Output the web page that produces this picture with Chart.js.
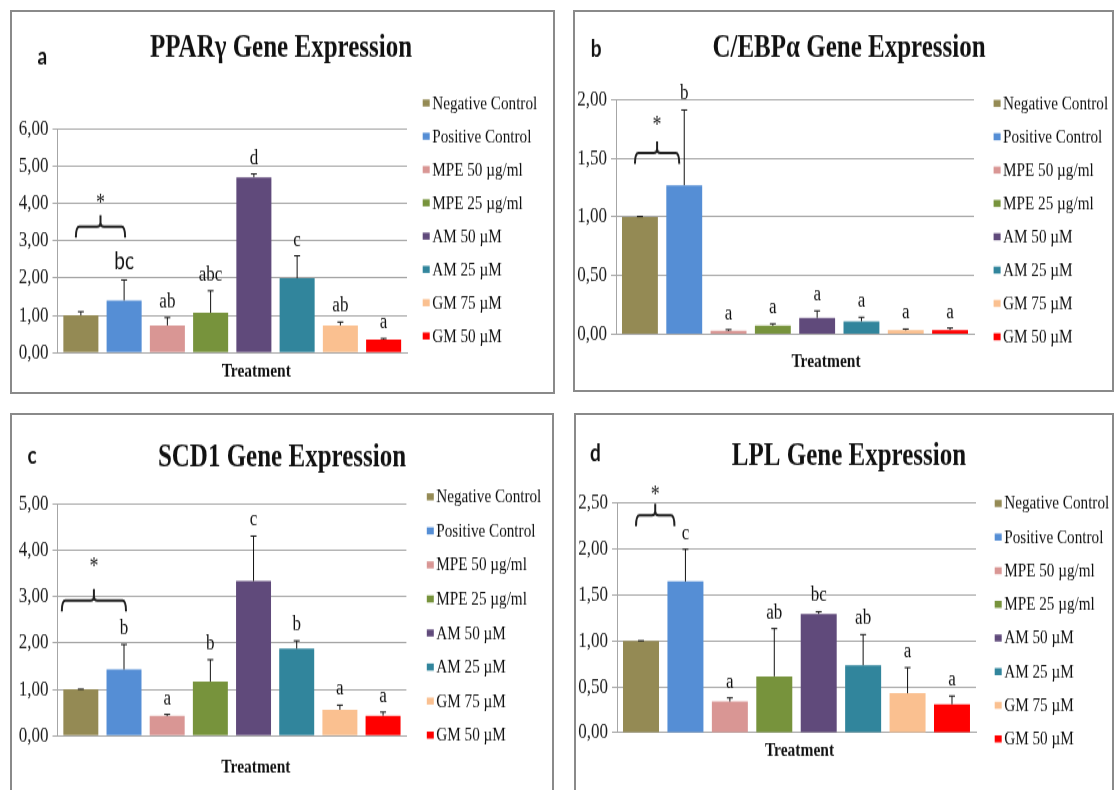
<!DOCTYPE html>
<html lang="en">
<head>
<meta charset="UTF-8">
<title>Gene Expression</title>
<script src="https://cdn.jsdelivr.net/npm/chart.js@4"></script>
<style>
  * { margin: 0; padding: 0; box-sizing: border-box; }
  html, body { width: 1115px; height: 790px; overflow: hidden; background: #fff; }
  .panel { position: absolute; border: 2px solid #8a8a8a; background: #fff; overflow: hidden; }
  .panel canvas { position: absolute; left: 0; top: 0; }
</style>
</head>
<body>
<div class="panel" id="pa"><canvas id="ca"></canvas></div>
<div class="panel" id="pb"><canvas id="cb"></canvas></div>
<div class="panel" id="pc"><canvas id="cc"></canvas></div>
<div class="panel" id="pd"><canvas id="cd"></canvas></div>

<script>
// shared
const treatments = ['Negative Control', 'Positive Control', 'MPE 50 µg/ml', 'MPE 25 µg/ml', 'AM 50 µM', 'AM 25 µM', 'GM 75 µM', 'GM 50 µM'];
const barColors = ['#948a54', '#558ed5', '#d99694', '#77933c', '#604a7b', '#31859c', '#fac090', '#ff0000'];
const xLabel = 'Treatment';

// a - PPARγ
const pparValues  = [1.00, 1.40, 0.73, 1.07, 4.71, 2.00, 0.73, 0.35];
const pparErrors  = [0.10, 0.55, 0.21, 0.59, 0.09, 0.60, 0.09, 0.03];
const pparLetters = ['', 'bc', 'ab', 'abc', 'd', 'c', 'ab', 'a'];

// b - C/EBPα
const cebpValues  = [1.00, 1.27, 0.030, 0.074, 0.14, 0.11, 0.035, 0.037];
const cebpErrors  = [0.003, 0.64, 0.010, 0.016, 0.06, 0.035, 0.010, 0.017];
const cebpLetters = ['', 'b', 'a', 'a', 'a', 'a', 'a', 'a'];

// c - SCD1
const scdValues  = [1.00, 1.43, 0.425, 1.17, 3.34, 1.88, 0.56, 0.43];
const scdErrors  = [0.005, 0.54, 0.035, 0.47, 0.97, 0.17, 0.10, 0.08];
const scdLetters = ['', 'b', 'a', 'b', 'c', 'b', 'a', 'a'];

// d - LPL
const lplValues  = [1.00, 1.65, 0.34, 0.615, 1.295, 0.735, 0.43, 0.31];
const lplErrors  = [0.003, 0.35, 0.04, 0.52, 0.025, 0.335, 0.28, 0.09];
const lplLetters = ['', 'c', 'a', 'ab', 'bc', 'ab', 'a', 'a'];

// y axis max / step per panel, bracket level and asterisk level (a, b, c, d)
const axisMax = [6, 2, 5, 2.5];
const axisStep = [1, 0.5, 1, 0.5];
const bracketLevels = [3.38, 1.545, 2.92, 2.37];
const starLevels = [4.15, 1.82, 3.75, 2.645];

const S = 1.28; // the picture is stretched vertically, so the canvas is too

const panels = [
  { tag: 'a', el: 'pa', cv: 'ca', box: [10, 10, 545, 384], title: 'PPARγ Gene Expression',
    values: pparValues, errors: pparErrors, letters: pparLetters,
    axis: { l: 57.5, r: 407, t: 129.3, b: 352.7 }, titleX: 281, titleY: 57, tagX: 37.5, tagY: 64,
    legX: 422.7, legY: 103, legGap: 33.3, xOff: 24, xPad: 6, br: [-5, 1], sans: [1] },
  { tag: 'b', el: 'pb', cv: 'cb', box: [573, 10, 541, 382], title: 'C/EBPα Gene Expression',
    values: cebpValues, errors: cebpErrors, letters: cebpLetters,
    axis: { l: 616, r: 974, t: 99.3, b: 334 }, titleX: 849, titleY: 57, tagX: 590.7, tagY: 56.7,
    legX: 993.6, legY: 103.3, legGap: 33.3, xOff: 31, xPad: 12.5, br: [-5, -5], sans: [] },
  { tag: 'c', el: 'pc', cv: 'cc', box: [10, 413, 544, 400], title: 'SCD1 Gene Expression',
    values: scdValues, errors: scdErrors, letters: scdLetters,
    axis: { l: 57.5, r: 406.4, t: 504, b: 735.3 }, titleX: 282, titleY: 466.7, tagX: 27.5, tagY: 463,
    legX: 426.8, legY: 496.7, legGap: 34, xOff: 24, xPad: 15, br: [-19, 2], sans: [] },
  { tag: 'd', el: 'pd', cv: 'cd', box: [574, 413, 540, 400], title: 'LPL Gene Expression',
    values: lplValues, errors: lplErrors, letters: lplLetters,
    axis: { l: 617, r: 976, t: 503.3, b: 732.3 }, titleX: 849, titleY: 465, tagX: 590, tagY: 461.7,
    legX: 994.7, legY: 503.3, legGap: 33.6, xOff: 3, xPad: 5, br: [-5, -11], sans: [] }
];

function decor(p, k, X, Y) {
  return {
    id: 'decor' + p.tag,
    afterDraw(chart) {
      const ctx = chart.ctx, ys = chart.scales.y;
      ctx.save();

      // title, a bit taller than the rest
      ctx.fillStyle = '#111';
      ctx.textAlign = 'center';
      ctx.textBaseline = 'alphabetic';
      ctx.font = 'bold 25px "Liberation Serif"';
      ctx.save();
      ctx.translate(X(p.titleX), Y(p.titleY));
      ctx.scale(1, 1.05);
      ctx.fillText(p.title, 0, 0);
      ctx.restore();

      // panel letter
      ctx.textAlign = 'left';
      ctx.font = 'bold 19px Lato';
      ctx.fillText(p.tag, X(p.tagX), Y(p.tagY));

      // legend
      ctx.font = '15.2px "Liberation Serif"';
      ctx.textBaseline = 'middle';
      chart.data.datasets.forEach((ds, i) => {
        const yc = Y(p.legY + i * p.legGap);
        ctx.fillStyle = ds.backgroundColor;
        ctx.fillRect(X(p.legX), yc - 2.75, 7, 5.5);
        ctx.fillStyle = '#111';
        ctx.fillText(ds.label, X(p.legX) + 9.5, yc + 0.5);
      });

      // error bars + letters
      ctx.strokeStyle = '#111';
      ctx.lineWidth = 1;
      ctx.textAlign = 'center';
      ctx.textBaseline = 'alphabetic';
      chart.data.datasets.forEach((ds, i) => {
        const bar = chart.getDatasetMeta(i).data[0];
        const top = ys.getPixelForValue(p.values[i] + p.errors[i]);
        ctx.beginPath();
        ctx.moveTo(bar.x, bar.y);
        ctx.lineTo(bar.x, top);
        ctx.moveTo(bar.x - 3, top);
        ctx.lineTo(bar.x + 3, top);
        ctx.stroke();
        if (p.letters[i]) {
          ctx.font = p.sans.includes(i) ? '19px Lato' : '17px "Liberation Serif"';
          ctx.fillText(p.letters[i], bar.x, top - 8);
        }
      });

      // bracket between the two controls
      const x0 = chart.getDatasetMeta(0).data[0].x + p.br[0];
      const x1 = chart.getDatasetMeta(1).data[0].x + p.br[1];
      const xm = (x0 + x1) / 2;
      const yh = ys.getPixelForValue(bracketLevels[k]);
      const drop = 8.5, spike = 9, r = 3.5;
      ctx.lineWidth = 2;
      ctx.strokeStyle = '#222';
      ctx.beginPath();
      ctx.moveTo(x0, yh + drop);
      ctx.quadraticCurveTo(x0, yh, x0 + r, yh);
      ctx.lineTo(xm - r, yh);
      ctx.quadraticCurveTo(xm, yh, xm, yh - r);
      ctx.lineTo(xm, yh - spike);
      ctx.moveTo(x1, yh + drop);
      ctx.quadraticCurveTo(x1, yh, x1 - r, yh);
      ctx.lineTo(xm + r, yh);
      ctx.quadraticCurveTo(xm, yh, xm, yh - r);
      ctx.stroke();
      ctx.fillStyle = '#222';
      ctx.font = '18px "Liberation Serif"';
      ctx.fillText('*', xm, ys.getPixelForValue(starLevels[k]) + 9.5);

      ctx.restore();
    }
  };
}

panels.forEach((p, k) => {
  const [bx, by, bw, bh] = p.box;
  const div = document.getElementById(p.el);
  div.style.left = bx + 'px';
  div.style.top = by + 'px';
  div.style.width = bw + 'px';
  div.style.height = bh + 'px';

  const ox = bx + 2, oy = by + 2;
  const W = bw - 4, Hcss = bh - 4, H = Math.round(Hcss / S);
  const X = px => px - ox;
  const Y = py => (py - oy) / S;

  const canvas = document.getElementById(p.cv);
  canvas.width = W;
  canvas.height = H;
  canvas.style.width = W + 'px';
  canvas.style.height = Hcss + 'px';

  const xAxisH = 30;

  new Chart(canvas, {
    type: 'bar',
    data: {
      labels: [xLabel],
      datasets: treatments.map((t, i) => ({
        label: t,
        data: [p.values[i]],
        backgroundColor: barColors[i],
        borderWidth: 0,
        categoryPercentage: 0.99,
        barPercentage: 0.81
      }))
    },
    options: {
      responsive: false,
      animation: false,
      devicePixelRatio: 1,
      layout: {
        padding: {
          left: 0,
          right: W - X(p.axis.r),
          top: Y(p.axis.t),
          bottom: H - Y(p.axis.b) - xAxisH
        }
      },
      scales: {
        x: {
          grid: { display: false, drawTicks: false },
          border: { color: '#a6a6a6' },
          ticks: {
            color: '#111',
            font: { family: 'Liberation Serif', size: 15.5, weight: 'bold' },
            padding: p.xPad,
            labelOffset: p.xOff
          },
          afterFit: s => { s.height = xAxisH; }
        },
        y: {
          min: 0,
          max: axisMax[k],
          ticks: {
            stepSize: axisStep[k],
            callback: v => v.toFixed(2).replace('.', ','),
            color: '#1a1a1a',
            font: { family: 'Liberation Serif', size: 17 },
            padding: 4
          },
          grid: { color: '#a6a6a6', tickLength: 5 },
          border: { color: '#a6a6a6' },
          afterFit: s => { s.width = X(p.axis.l); }
        }
      },
      plugins: {
        legend: { display: false },
        title: { display: false },
        tooltip: { enabled: false }
      }
    },
    plugins: [decor(p, k, X, Y)]
  });
});
</script>
</body>
</html>
